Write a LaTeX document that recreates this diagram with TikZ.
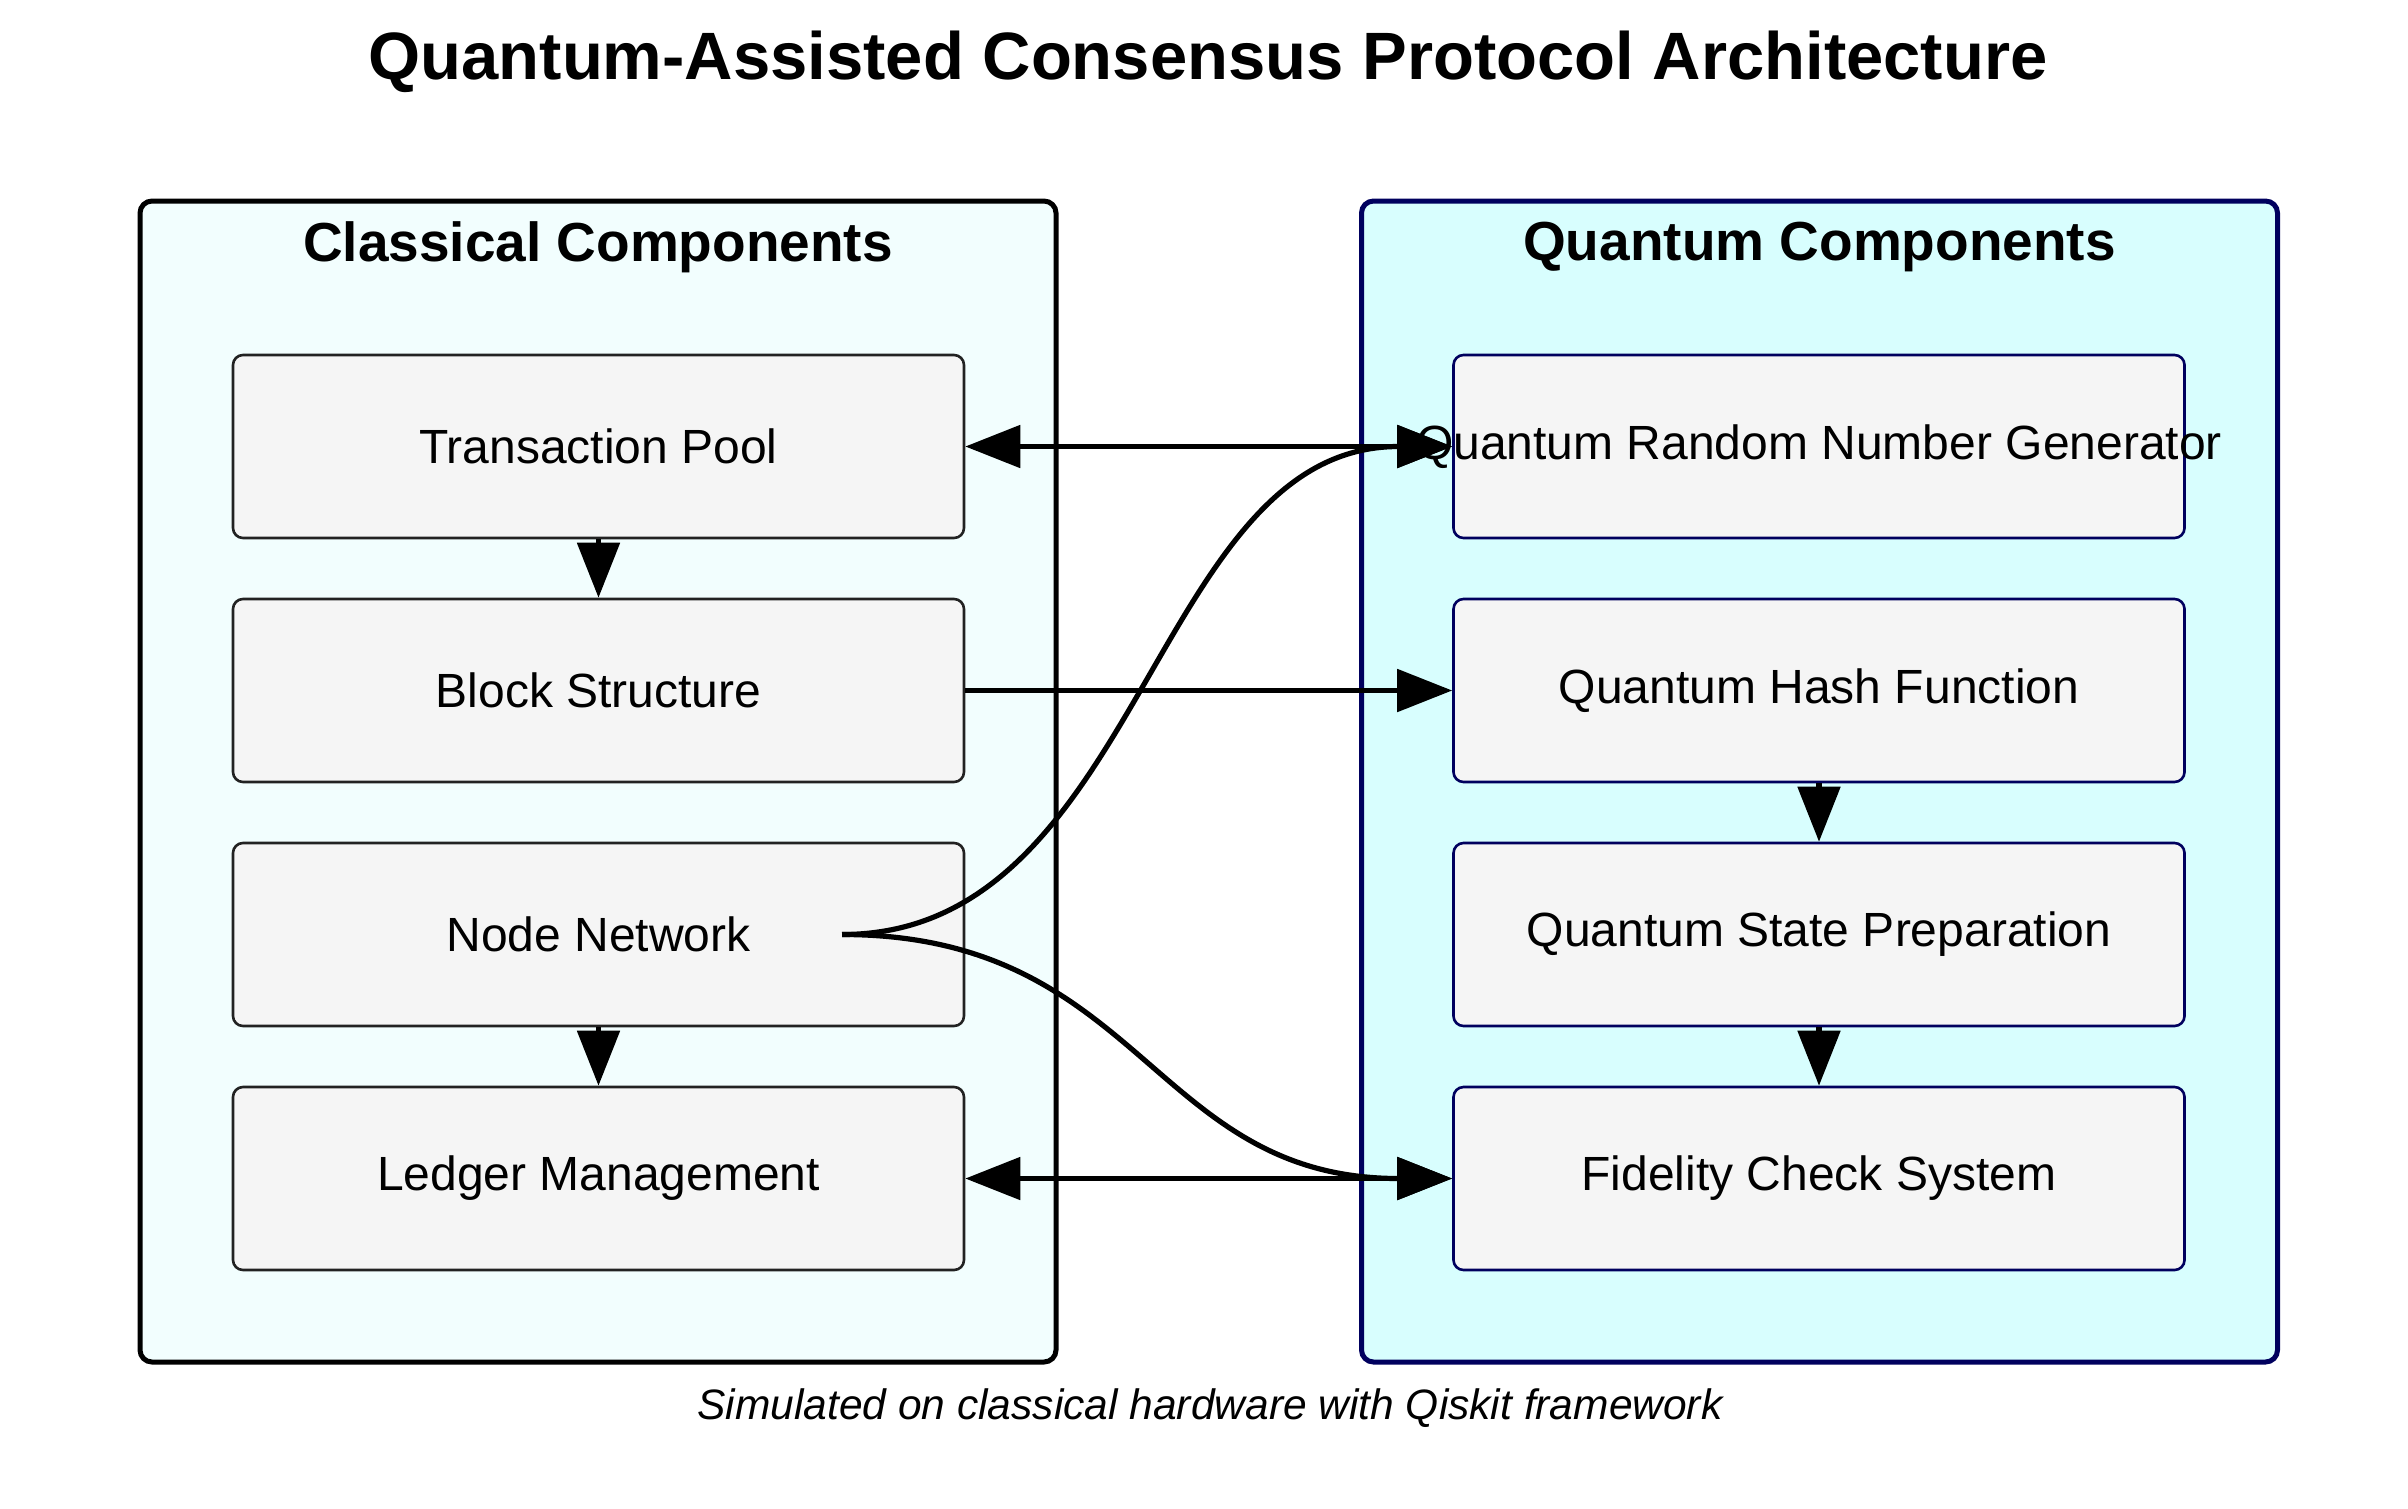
\documentclass[tikz,border=0pt]{standalone}
\usepackage{fontspec}
\setmainfont{Liberation Sans}
\usetikzlibrary{arrows.meta,calc}
\definecolor{clfill}{HTML}{F2FEFE}
\definecolor{qcfill}{HTML}{D8FEFE}
\definecolor{navyb}{HTML}{00005E}
\definecolor{boxfill}{HTML}{F5F5F5}
\definecolor{cborder}{HTML}{222222}
\begin{document}
\begin{tikzpicture}[x=1pt,y=-1pt,
  cluster/.style={draw, line width=5pt, rounded corners=12pt, minimum width=916pt, minimum height=1161pt, inner sep=0pt},
  cbox/.style={draw=cborder, fill=boxfill, line width=2.6pt, rounded corners=10pt, minimum width=731pt, minimum height=183pt, inner sep=0pt, font=\fontsize{48}{58}\selectfont},
  qbox/.style={cbox, draw=navyb},
  ctitle/.style={font=\bfseries\fontsize{55}{66}\selectfont},
  conn/.style={line width=5.2pt, -{Triangle[length=55pt,width=42pt]}},
  biconn/.style={line width=5.2pt, {Triangle[length=55pt,width=42pt]}-{Triangle[length=55pt,width=42pt]}},
]
\path[use as bounding box, fill=white] (0,0) rectangle (2408,1508);

% title
\node[font=\bfseries\fontsize{67}{80}\selectfont] (title) at (1208,62) {Quantum-Assisted Consensus Protocol Architecture};

% clusters
\node[cluster, draw=black, fill=clfill] (cl) at (598,781.5) {};
\node[cluster, draw=navyb, fill=qcfill] (qc) at (1819.5,781.5) {};
\node[ctitle] (cltitle) at (598,247) {Classical Components};
\node[ctitle] (qctitle) at (1819.5,247) {Quantum Components};

% classical nodes
\node[cbox] (tp) at (598.5,446.5) {Transaction Pool};
\node[cbox] (bs) at (598.5,690.5) {Block Structure};
\node[cbox] (nn) at (598.5,934.5) {Node Network};
\node[cbox] (lm) at (598.5,1178.5) {Ledger Management};

% quantum nodes
\node[qbox] (qrng) at (1819,446.5) {\makebox[0pt]{Quantum Random Number Generator}};
\node[qbox] (qhf) at (1819,690.5) {Quantum Hash Function};
\node[qbox] (qsp) at (1819,934.5) {Quantum State Preparation};
\node[qbox] (fcs) at (1819,1178.5) {Fidelity Check System};

% footer
\node[font=\itshape\fontsize{42.5}{50}\selectfont] (foot) at (1210,1408) {Simulated on classical hardware with Qiskit framework};

% connectors
\coordinate (nnout) at (842,934.5);
\draw[conn] (tp) -- (bs);
\draw[conn] (nn) -- (lm);
\draw[conn] (qhf) -- (qsp);
\draw[conn] (qsp) -- (fcs);
\draw[biconn] (tp.east) -- (qrng.west);
\draw[conn] (bs.east) -- (qhf.west);
\draw[biconn] (lm.east) -- (fcs.west);
\draw[conn] (nnout) .. controls ($(nnout)+(300,0)$) and ($(qrng.west)+(-300,0)$) .. (qrng.west);
\draw[conn] (nnout) .. controls ($(nnout)+(300,0)$) and ($(fcs.west)+(-300,0)$) .. (fcs.west);
\end{tikzpicture}
\end{document}
